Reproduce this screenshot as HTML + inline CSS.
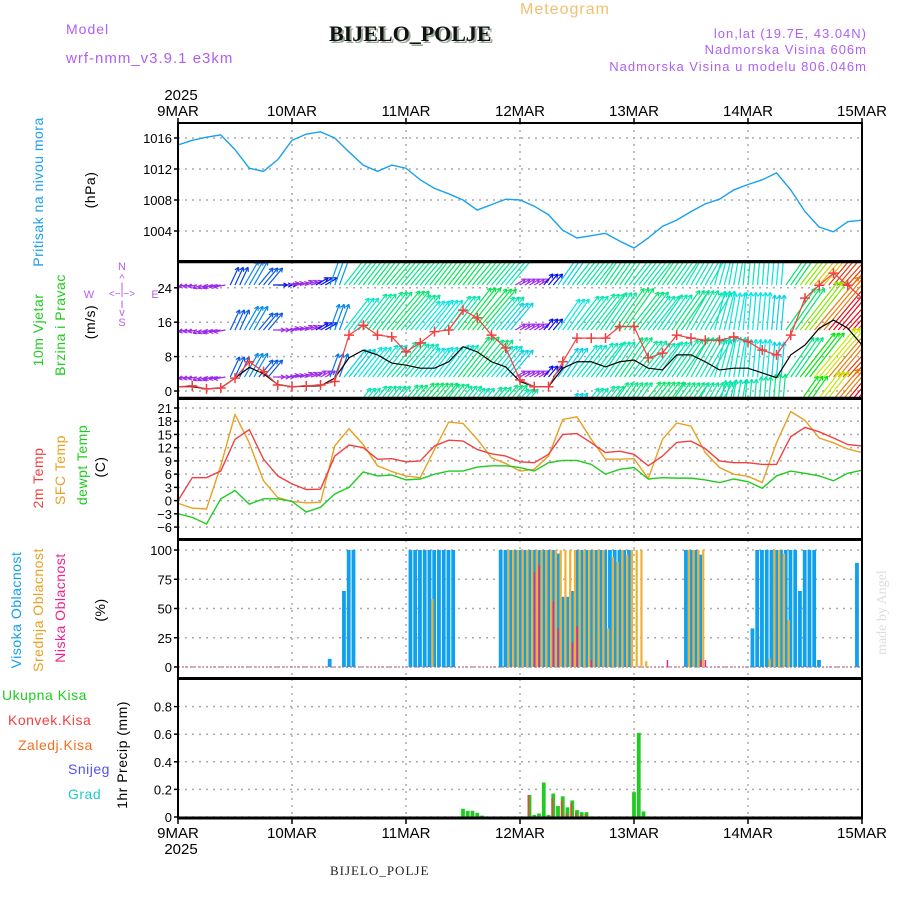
<!DOCTYPE html>
<html><head><meta charset="utf-8"><style>
html,body{margin:0;padding:0;background:#fff;}
svg{display:block;font-family:"Liberation Sans",sans-serif;}
</style></head><body>
<svg id="chart" width="900" height="900" viewBox="0 0 900 900" xmlns="http://www.w3.org/2000/svg">
<g>
<text x="520" y="14" font-size="16" fill="#f0c070" letter-spacing="1">Meteogram</text>
<text x="66" y="34" font-size="14" fill="#b060f0" letter-spacing="1">Model</text>
<text x="66" y="63" font-size="15" fill="#b060f0" letter-spacing="1">wrf-nmm_v3.9.1 e3km</text>
<text x="331" y="43" font-size="22" font-weight="bold" font-family="Liberation Serif,serif" fill="#9a9">BIJELO_POLJE</text>
<text x="329" y="41" font-size="22" font-weight="bold" font-family="Liberation Serif,serif" fill="#111">BIJELO_POLJE</text>
<text x="867" y="38" font-size="13" fill="#b060f0" text-anchor="end" letter-spacing="1">lon,lat (19.7E, 43.04N)</text>
<text x="867" y="54" font-size="13" fill="#b060f0" text-anchor="end" letter-spacing="1">Nadmorska Visina 606m</text>
<text x="867" y="71" font-size="13" fill="#b060f0" text-anchor="end" letter-spacing="1">Nadmorska Visina u modelu 806.046m</text>
<text x="330" y="875" font-size="13" font-family="Liberation Serif,serif" fill="#222" letter-spacing="1">BIJELO_POLJE</text>
<text transform="translate(886,655) rotate(-90)" font-size="14" font-family="Liberation Serif,serif" fill="#ddd">made by Angel</text>
</g>
<g id="plots"></g>
</svg>
<script>
// ---------- DATA ----------
const days = ['9MAR','10MAR','11MAR','12MAR','13MAR','14MAR','15MAR'];
const hours3 = [0,3,6,9,12,15,18,21,24,27,30,33,36,39,42,45,48,51,54,57,60,63,66,69,72,75,78,81,84,87,90,93,96,99,102,105,108,111,114,117,120,123,126,129,132,135,138,141,144];
const pressure = [1015.1,1015.7,1016.1,1016.4,1014.5,1012.1,1011.7,1013.2,1015.7,1016.5,1016.8,1016,1014.2,1012.5,1011.7,1012.5,1012.1,1010.6,1009.5,1008.8,1008,1006.7,1007.4,1008.1,1008,1007.2,1006.1,1004.1,1003.1,1003.4,1003.7,1002.7,1001.8,1003.1,1004.6,1005.4,1006.5,1007.5,1008.1,1009.3,1010,1010.6,1011.5,1009.3,1006.5,1004.5,1003.9,1005.2,1005.4];
const pressureTicks = [1016,1012,1008,1004];
const gust = [1,1.2,0.5,0.7,3,6.8,4.5,1.4,1,1.2,1.4,2.2,13,15.3,13,12.6,9.1,11.2,13.8,14.2,18.8,17,13,10,2.6,1,1,6.8,12.3,12.3,12.3,15,15,7.7,8.8,13,12.3,11.8,11.8,12.6,11.5,9.5,8.4,13,21.6,24.6,27.4,24.6,21.6];
const wind10 = [1,1,0.5,0.7,3,5.5,4,1.5,1,1.1,1.2,3,7.7,9.5,8.4,6.5,6,5.3,5.3,6.8,10.3,9.1,6.8,5.6,2.2,1,1,5.3,6.8,6.8,5.6,6.8,7.2,5.3,4.9,8.4,8.4,6.8,4.9,5.3,5.3,4.2,3.1,8.4,10.7,14.6,16.5,14.6,10.7];
const windTicks = [24,16,8,0];
const windDir = [260,260,250,260,25,30,40,90,80,70,60,20,38,38,38,40,40,40,38,38,38,40,40,40,60,60,40,35,38,38,35,35,38,38,35,35,30,30,15,10,5,5,5,35,38,40,40,42,42];
const windRowA = [2,2,2,3,6,9,7,4,3,3,4,10,16,17,18,18,17,17,18,19,19,18,17,15,3,3,4,12,16,16,17,17,16,16,17,16,15,15,14,14,15,14,13,18,22,24,26,26,25];
const windRowB = [2,2,2,3,7,9,7,3,3,3,4,9,14,16,17,18,16,13,13,15,19,19,15,12,3,3,4,13,15,16,16,18,17,15,15,17,16,15,14,13,13,13,12,18,22,25,27,27,26];
const windRowC = [2,2,2,3,7,9,7,3,3,3,3,8,12,13,14,16,15,13,13,14,18,17,14,12,3,3,4,12,14,15,15,17,16,15,15,16,16,15,14,14,13,13,12,17,20,23,25,26,26];
const windRowD = [3,3,3,3,3,3,3,3,3,3,3,3,15,16,16,17,18,18,17,16,15,16,17,15,3,3,3,12,15,16,17,17,18,18,17,17,16,16,15,15,15,16,17,20,23,25,27,28,28];
const temp2m = [0,5.2,5.2,6.7,13.9,16.1,9.4,5.6,3.8,2.5,2.6,10.1,12.6,12,9.4,9.5,8.8,9,12.4,13.7,13.5,11.6,10.6,10.1,8.8,8.6,10.5,15,15.2,13.1,10.9,11.2,10.5,7.9,10.1,13.2,13.5,11.8,9,8.6,8.6,8.2,8.2,14.5,16.6,15.6,14.2,12.7,12.4];
const tempSfc = [-0.6,-1.7,-1.9,7.9,19.5,13.1,4.5,0.7,-0.2,-0.5,-0.4,12.4,16.3,12.7,7.9,6.6,5.6,5.2,11.6,17.8,17.5,13.9,9.7,8.4,6.7,7.1,10.1,18.4,19,13.9,9.4,9.4,9.5,5,13.9,17.6,16.9,10.9,7.5,6,5.5,4.1,13.1,20.2,18.2,14.2,13.1,11.7,10.9];
const tempDew = [-3,-3.8,-5.3,0.4,2.3,-0.8,0.4,0.4,-0.2,-2.6,-1.5,1.5,3,6.5,5.6,5.8,4.7,4.9,6,6.7,6.7,7.6,7.9,7.9,7.5,6.7,8.6,9.1,9.1,8.2,6,7.1,7.5,4.9,5.2,5.1,5.1,4.7,4.1,4.9,4.3,2.8,5.6,6.7,6.2,5.6,4.5,6.2,6.9];
const tempTicks = [21,18,15,12,9,6,3,0,-3,-6];
const highHours = [32,35,36,37,49,50,51,52,53,54,55,56,57,58,68,69,70,71,72,73,74,75,76,77,78,79,80,81,82,83,84,85,86,87,88,89,90,91,92,93,94,95,107,108,109,110,121,122,123,124,125,126,127,128,129,130,131,132,133,134,135,143];
const highCloud = [7,65,100,100,100,100,100,100,100,100,100,100,100,100,100,100,100,100,100,100,100,100,100,100,100,100,97,60,60,65,100,100,100,100,100,100,100,100,100,100,100,100,100,100,100,96,33,100,100,100,100,100,100,100,100,100,65,100,100,100,6,89];
const midHours = [53,69,70,71,72,73,74,75,76,77,78,79,80,81,82,83,84,85,86,87,88,89,90,91,92,93,94,95,96,97,98,107,108,109,110,124,125,126,127,128];
const midCloud = [58,100,100,100,100,100,100,100,100,100,100,100,100,100,100,100,100,100,100,100,100,100,33,94,90,100,96,100,100,100,5,100,100,100,100,7,100,100,97,40];
const lowHours = [75,76,79,80,83,84,87,103,110,111];
const lowCloud = [81,87,56,33,21,35,6,6,6,6];
const cloudTicks = [100,75,50,25,0];
const precipHours = [60,61,62,63,64,74,75,76,77,78,79,80,81,82,83,84,85,86,96,97,98];
const precipTotal = [0.06,0.045,0.045,0.03,0.01,0.16,0.015,0.025,0.25,0.015,0.17,0.08,0.15,0.07,0.12,0.05,0.035,0.035,0.18,0.61,0.04];
const precipConv = [0,0,0,0,0,0.16,0,0,0,0,0.14,0,0.12,0.03,0.1,0.03,0.015,0.02,0,0,0];
const precipTicks = [0.8,0.6,0.4,0.2,0];

// ---------- AXES ----------
const X0=178, X1=862, PXH=(X1-X0)/144;
const X = h => X0 + h*PXH;
const Yp = p => 138 + (1016-p)*7.75;
const Yw = v => 391 - v*4.3;
const Yt = t => 408 + (21-t)*4.41;
const Yc = c => 667 - c*1.17;
const Yr = r => 817 - r*138;
const panels = [[123,261],[262,398],[399,539],[540,678],[679,818]];

const NS='http://www.w3.org/2000/svg';
const root=document.getElementById('plots');
function mk(tag, attrs, parent){const e=document.createElementNS(NS,tag);for(const k in attrs)e.setAttribute(k,attrs[k]);(parent||root).appendChild(e);return e;}
function txt(x,y,s,attrs,parent){const e=mk('text',Object.assign({x:x,y:y},attrs),parent);e.textContent=s;return e;}

const defs=mk('defs',{});
panels.forEach((p,i)=>{const c=mk('clipPath',{id:'clip'+i},defs);mk('rect',{x:X0,y:p[0],width:X1-X0,height:p[1]-p[0]},c);});

const grid=mk('g',{});


function hgrid(y){mk('line',{x1:X0,x2:X1,y1:y,y2:y,stroke:'#aaa','stroke-width':1.5,'stroke-dasharray':'2,5'},grid);}
panels.forEach(p=>{for(let d=1;d<6;d++){const x=X(d*24);mk('line',{x1:x,x2:x,y1:p[0],y2:p[1],stroke:'#aaa','stroke-width':1.5,'stroke-dasharray':'2,5'},grid);}});
pressureTicks.forEach(v=>hgrid(Yp(v)));windTicks.forEach(v=>hgrid(Yw(v)));tempTicks.forEach(v=>hgrid(Yt(v)));cloudTicks.forEach(v=>hgrid(Yc(v)));precipTicks.forEach(v=>hgrid(Yr(v)));

const ticksG=mk('g',{'font-size':13,fill:'#000','text-anchor':'end'});


function ytick(y,s){txt(172,y+5,s,{},ticksG);mk('line',{x1:X0-4,x2:X0,y1:y,y2:y,stroke:'#000','stroke-width':1.5},ticksG);}
pressureTicks.forEach(v=>ytick(Yp(v),String(v)));
windTicks.forEach(v=>ytick(Yw(v),String(v)));
tempTicks.forEach(v=>ytick(Yt(v),v<0?'\u2212'+Math.abs(v):String(v)));
cloudTicks.forEach(v=>ytick(Yc(v),String(v)));
precipTicks.forEach(v=>ytick(Yr(v),String(v)));

const xl=mk('g',{'font-size':15,fill:'#000','text-anchor':'middle'});


days.forEach((d,i)=>{const x=X(i*24);txt(x,116,d,{},xl);txt(x,838,d,{},xl);mk('line',{x1:x,x2:x,y1:118,y2:123,stroke:'#000','stroke-width':1.5},xl);mk('line',{x1:x,x2:x,y1:818,y2:824,stroke:'#000','stroke-width':1.5},xl);});
txt(X0+3,100,'2025',{},xl);txt(X0+3,854,'2025',{},xl);

const pG=mk('g',{'clip-path':'url(#clip0)'});


mk('polyline',{points:hours3.map((h,i)=>X(h)+','+Yp(pressure[i])).join(' '),fill:'none',stroke:'#1aa0f0','stroke-width':1.4},pG);

const wG=mk('g',{'clip-path':'url(#clip1)'});


function wcol(v){if(v<3.6)return 'hsl(275,85%,55%)';let hue=v<19?240-(v-3.6)*6.5:140-(v-19)*18;if(hue<-20)hue=-20;return 'hsl('+((hue+360)%360)+',95%,46%)';}
function drawRow(arr,base){
  for(let h=0;h<=144;h++){
    const i=Math.min(48,Math.round(h/3));
    const v=arr[i], dir=windDir[i]*Math.PI/180, L=v*2.6+4;
    const x=X(h), y=base, x2=x+L*Math.sin(dir), y2=y-L*Math.cos(dir);
    const c=wcol(v);
    const g=mk('g',{stroke:c,'stroke-width':1.2,fill:'none'},wG);
    
    
    mk('line',{x1:x,y1:y,x2:x2,y2:y2},g);
    const a=Math.atan2(y2-y,x2-x);
    [0.5,-0.5].forEach(o=>{mk('line',{x1:x2,y1:y2,x2:x2-4.5*Math.cos(a+o),y2:y2-4.5*Math.sin(a+o)},g);});
  }
}
drawRow(windRowA,285);drawRow(windRowB,330);drawRow(windRowC,377);drawRow(windRowD,422);

const sG=mk('g',{'clip-path':'url(#clip1)'});


mk('polyline',{points:hours3.map((h,i)=>X(h)+','+Yw(wind10[i])).join(' '),fill:'none',stroke:'#000','stroke-width':1.2},sG);
mk('polyline',{points:hours3.map((h,i)=>X(h)+','+Yw(gust[i])).join(' '),fill:'none',stroke:'#f04040','stroke-width':1.2},sG);
hours3.forEach((h,i)=>{const x=X(h),y=Yw(gust[i]);const p=mk('path',{d:`M${x-5},${y}h10M${x},${y-5}v10`,stroke:'#f04040','stroke-width':1.5},sG);});

const tG=mk('g',{'clip-path':'url(#clip2)'});


[[tempSfc,'#e8a020'],[temp2m,'#f04040'],[tempDew,'#20cc20']].forEach(([arr,c])=>{mk('polyline',{points:hours3.map((h,i)=>X(h)+','+Yt(arr[i])).join(' '),fill:'none',stroke:c,'stroke-width':1.4},tG);});

const cG=mk('g',{'clip-path':'url(#clip3)'});


mk('line',{x1:X0,x2:X1,y1:Yc(0),y2:Yc(0),stroke:'#c8a','stroke-width':1.5,'stroke-dasharray':'2,2'},cG);
highHours.forEach((h,i)=>{const b=mk('rect',{x:X(h)-2.2,y:Yc(highCloud[i]),width:3.8,height:Yc(0)-Yc(highCloud[i]),fill:'#10a0f0'},cG);});
midHours.forEach((h,i)=>{const b=mk('rect',{x:X(h)+1.6,y:Yc(midCloud[i]),width:2.2,height:Yc(0)-Yc(midCloud[i]),fill:'#f0b030'},cG);});
lowHours.forEach((h,i)=>{const b=mk('rect',{x:X(h)-0.5,y:Yc(lowCloud[i]),width:1.4,height:Yc(0)-Yc(lowCloud[i]),fill:'#f0208a'},cG);});

const rG=mk('g',{'clip-path':'url(#clip4)'});


precipHours.forEach((h,i)=>{
  const b=mk('rect',{x:X(h)-1.9,y:Yr(precipTotal[i]),width:3.8,height:Yr(0)-Yr(precipTotal[i]),fill:'#20cc20'},rG);
  
  
  if(precipConv[i]>0){const c=mk('rect',{x:X(h)-1.9,y:Yr(precipConv[i]),width:1.6,height:Yr(0)-Yr(precipConv[i]),fill:'#f04040'},rG);
  
  }
});

const fG=mk('g',{fill:'none',stroke:'#000'});


panels.forEach(p=>{mk('rect',{x:X0,y:p[0],width:X1-X0,height:p[1]-p[0],'stroke-width':2},fG);});
mk('line',{x1:X0,x2:X1,y1:262,y2:262,'stroke-width':2.5},fG);
mk('line',{x1:X0,x2:X1,y1:398,y2:398,'stroke-width':2.5},fG);
mk('line',{x1:X0,x2:X1,y1:818,y2:818,'stroke-width':3},fG);

const L=mk('g',{'font-size':14,'letter-spacing':'0.5'});


function vlab(x,cy,s,col,name){const e=txt(0,0,s,{transform:`translate(${x},${cy}) rotate(-90)`,'text-anchor':'middle',fill:col},L);}
vlab(43,192,'Pritisak na nivou mora','#1aa0f0','pressure-title');
vlab(95,190,'(hPa)','#000','pressure-unit');
vlab(43,330,'10m Vjetar','#20cc20','wind-title');
vlab(65,325,'Brzina i Pravac','#20cc20','wind-subtitle');
vlab(95,322,'(m/s)','#000','wind-unit');
vlab(43,478,'2m Temp','#f04040','temp2m-title');
vlab(65,470,'SFC Temp','#e8a020','sfc-temp-title');
vlab(87,465,'dewpt Temp','#20cc20','dewpt-title');
vlab(105,467,'(C)','#000','temp-unit');
vlab(21,610,'Visoka Oblacnost','#10a0f0','high-cloud-title');
vlab(43,610,'Srednja Oblacnost','#e8a020','mid-cloud-title');
vlab(65,608,'Niska Oblacnost','#f0208a','low-cloud-title');
vlab(105,610,'(%)','#000','cloud-unit');
vlab(127,755,'1hr Precip (mm)','#000','precip-title');
[['Ukupna Kisa',2,700,'#20cc20'],['Konvek.Kisa',8,725,'#f04040'],['Zaledj.Kisa',18,750,'#f07020'],['Snijeg',68,774,'#5050f0'],['Grad',68,799,'#20c8c8']].forEach(([s,x,y,c])=>{const e=txt(x,y,s,{fill:c},L);});
const cp=mk('g',{fill:'#b060f0','font-size':11,'text-anchor':'middle'});


txt(122,270,'N',{},cp);txt(122,282,'^',{},cp);txt(122,290,'I',{},cp);
txt(122,297,'<\u2212I\u2212>',{'font-size':10},cp);txt(89,298,'W',{},cp);txt(155,298,'E',{},cp);
txt(122,308,'I',{},cp);txt(122,316,'v',{},cp);txt(122,326,'S',{},cp);
</script>
</body></html>
